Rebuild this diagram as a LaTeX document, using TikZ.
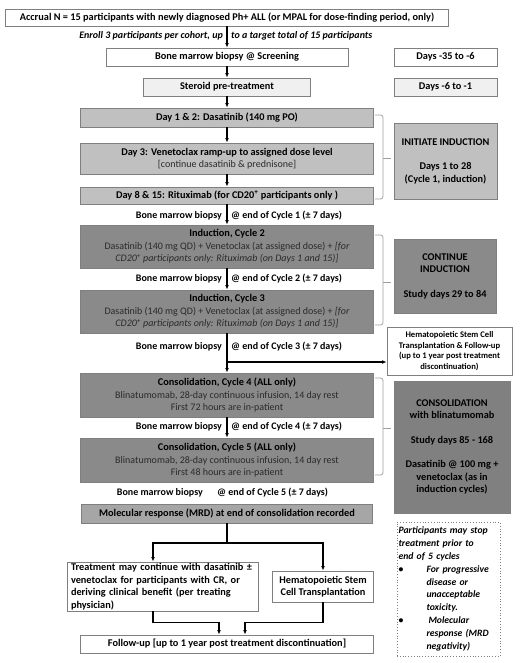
\documentclass[tikz,border=0pt]{standalone}
\usepackage{fontspec}
\setmainfont{Carlito}
\usetikzlibrary{arrows.meta}
\definecolor{bordergray}{HTML}{7F7F7F}
\definecolor{bracegray}{HTML}{A0A0A0}
\definecolor{fillvlight}{HTML}{F0F0F0}
\definecolor{filllight}{HTML}{C0C0C0}
\definecolor{fillmid}{HTML}{A6A6A6}
\definecolor{filldark}{HTML}{8A8A8A}
\definecolor{filldarker}{HTML}{808080}
\definecolor{bodytext}{HTML}{2A2A2A}
\newcommand{\bodyfont}{\mdseries\fontsize{10}{12.5}\selectfont\color{bodytext}}
\begin{document}
\begin{tikzpicture}[x=1pt,y=-1pt,
  box/.style={draw=bordergray, line width=0.8pt, inner sep=0pt, align=center,
    font=\bfseries\fontsize{10.3}{12.5}\selectfont},
  smallbox/.style={box, font=\bfseries\fontsize{8.6}{10.5}\selectfont},
  arr/.style={-{Latex[length=4.5pt,width=3.8pt]}, line width=1.1pt},
  conn/.style={line width=1.1pt},
  lbl/.style={font=\bfseries\fontsize{10}{12}\selectfont, inner sep=0pt},
  brace/.style={draw=bracegray, line width=0.8pt, rounded corners=2.5pt}]
\useasboundingbox (0,0) rectangle (520,663);

% main column
\node[box, minimum width=443pt, minimum height=17pt] (accrual) at (227,17.5)
  {Accrual N = 15 participants with newly diagnosed Ph+ ALL (or MPAL for dose-finding period, only)};
\node[lbl, anchor=east] (enrollL) at (223,36) {\itshape Enroll 3 participants per cohort, up};
\node[lbl, anchor=west] (enrollR) at (231,36) {\itshape to a target total of 15 participants};

\node[box, fill=white, minimum width=242pt, minimum height=18pt] (screen) at (227,57)
  {Bone marrow biopsy @ Screening};
\node[box, fill=fillvlight, minimum width=167pt, minimum height=18pt] (steroid) at (227,87)
  {Steroid pre-treatment};

\node[box, fill=filllight, minimum width=293pt, minimum height=19pt] (day1) at (227,117.5)
  {Day 1 \& 2: Dasatinib (140 mg PO)};
\node[box, fill=filllight, minimum width=293pt, minimum height=31pt] (day3) at (227,158.5)
  {Day 3: Venetoclax ramp-up to assigned dose level\\
   {\bodyfont[continue dasatinib \& prednisone]}};
\node[box, fill=filllight, minimum width=293pt, minimum height=17pt] (day8) at (227,195.5)
  {Day 8 \& 15: Rituximab (for CD20\textsuperscript{+} participants only )};

\node[lbl, anchor=east] (bmb1L) at (222,216) {Bone marrow biopsy};
\node[lbl, anchor=west] (bmb1R) at (231,216) {@ end of Cycle 1 (± 7 days)};

\node[box, fill=filldark, minimum width=293pt, minimum height=43pt] (cyc2) at (227,246.5)
  {Induction, Cycle 2\\
   {\bodyfont Dasatinib (140 mg QD) + Venetoclax (at assigned dose) + \itshape[for}\\
   {\bodyfont\itshape CD20\textsuperscript{+} participants only: Rituximab (on Days 1 and 15)]}};

\node[lbl, anchor=east] (bmb2L) at (222,279) {Bone marrow biopsy};
\node[lbl, anchor=west] (bmb2R) at (231,279) {@ end of Cycle 2 (± 7 days)};

\node[box, fill=filldark, minimum width=293pt, minimum height=43pt] (cyc3) at (227,311.5)
  {Induction, Cycle 3\\
   {\bodyfont Dasatinib (140 mg QD) + Venetoclax (at assigned dose) + \itshape[for}\\
   {\bodyfont\itshape CD20\textsuperscript{+} participants only: Rituximab (on Days 1 and 15)]}};

\node[lbl, anchor=east] (bmb3L) at (222,347) {Bone marrow biopsy};
\node[lbl, anchor=west] (bmb3R) at (231,347) {@ end of Cycle 3 (± 7 days)};

\node[box, fill=filldark, minimum width=293pt, minimum height=44pt] (cyc4) at (227,395)
  {Consolidation, Cycle 4 (ALL only)\\
   {\bodyfont Blinatumomab, 28-day continuous infusion, 14 day rest}\\
   {\bodyfont First 72 hours are in-patient}};

\node[lbl, anchor=east] (bmb4L) at (222,427) {Bone marrow biopsy};
\node[lbl, anchor=west] (bmb4R) at (231,427) {@ end of Cycle 4 (± 7 days)};

\node[box, fill=filldark, minimum width=293pt, minimum height=44pt] (cyc5) at (227,460)
  {Consolidation, Cycle 5 (ALL only)\\
   {\bodyfont Blinatumomab, 28-day continuous infusion, 14 day rest}\\
   {\bodyfont First 48 hours are in-patient}};

\node[lbl, anchor=east] (bmb5L) at (203,493) {Bone marrow biopsy};
\node[lbl, anchor=west] (bmb5R) at (217,493) {@ end of Cycle 5 (± 7 days)};

\node[box, fill=fillmid, minimum width=291pt, minimum height=19pt] (mrd) at (227,513.5)
  {Molecular response (MRD) at end of consolidation recorded};

\node[box, fill=white, minimum width=191pt, minimum height=49pt, text width=183pt, align=left]
  (contbox) at (162.5,586.5)
  {Treatment may continue with dasatinib ±\\venetoclax for participants with CR, or\\
   deriving clinical benefit (per treating\\physician)};
\node[box, fill=white, minimum width=101pt, minimum height=31pt] (hsct2) at (323,586.5)
  {Hematopoietic Stem\\Cell Transplantation};

\node[box, fill=white, minimum width=293pt, minimum height=18pt] (follow) at (227,644)
  {Follow-up [up to 1 year post treatment discontinuation]};

% right column
\node[box, fill=white, minimum width=103pt, minimum height=18pt] (d35) at (445.5,57) {Days -35 to -6};
\node[box, fill=fillvlight, minimum width=103pt, minimum height=18pt] (d6) at (445.5,87) {Days -6 to -1};
\node[box, fill=filllight, minimum width=103pt, minimum height=76pt] (init) at (445.5,161)
  {INITIATE INDUCTION\\[12pt]Days 1 to 28\\(Cycle 1, induction)};
\node[box, fill=filldark, minimum width=102pt, minimum height=74pt] (contind) at (445,276)
  {CONTINUE\\INDUCTION\\[12pt]Study days 29 to 84};
\node[smallbox, fill=white, minimum width=125pt, minimum height=48pt] (hsct) at (449.5,351)
  {Hematopoietic Stem Cell\\Transplantation \& Follow-up\\(up to 1 year post treatment\\discontinuation)};
\node[box, fill=filldarker, minimum width=116pt, minimum height=132pt] (consol) at (452,447)
  {CONSOLIDATION\\with blinatumomab\\[12pt]Study days 85 - 168\\[12pt]Dasatinib @ 100 mg +\\venetoclax (as in\\induction cycles)};
\node[box, draw=bordergray, dotted, line width=0.9pt, minimum width=103pt, minimum height=134pt,
  text width=100pt, align=left, font=\bfseries\itshape\fontsize{9.7}{12.8}\selectfont] (stop) at (448.5,589)
  {Participants may stop\\treatment prior to\\end of 5 cycles\\
   \makebox[28pt][l]{\upshape\textbullet}For progressive\\
   \hspace*{28pt}disease or\\
   \hspace*{28pt}unacceptable\\
   \hspace*{28pt}toxicity.\\
   \makebox[28pt][l]{\upshape\textbullet}\hspace*{2pt}Molecular\\
   \hspace*{28pt}response (MRD\\
   \hspace*{28pt}negativity)};

% braces
\draw[brace] (375,115) -- (383,115) -- (383,199) -- (375,199);
\draw[brace] (383,158) -- (391,158);
\draw[brace] (375,235) -- (383,235) -- (383,325) -- (375,325);
\draw[brace] (383,282) -- (391,282);
\draw[brace] (375,378) -- (383,378) -- (383,475) -- (375,475);
\draw[brace] (383,428) -- (391,428);

% connectors
\draw[arr] (accrual) -- (screen);
\draw[arr] (screen) -- (steroid);
\draw[arr] (steroid) -- (day1);
\draw[arr] (day1) -- (day3);
\draw[arr] (day3) -- (day8);
\draw[arr] (day8) -- (cyc2);
\draw[arr] (cyc2) -- (cyc3);
\draw[arr] (cyc3) -- (cyc4);
\coordinate (branch) at (227,362);
\draw[arr] (branch) -- (branch -| hsct.west);
\draw[arr] (cyc4) -- (cyc5);

\coordinate (split) at (227,543);
\draw[conn] (mrd) -- (split);
\draw[arr] (split) -| ([xshift=-9.5pt]contbox.north);
\draw[arr] (split) -| (hsct2.north);
\draw[arr] ([xshift=-9.5pt]contbox.south) |- ++(66,11) -- ([xshift=-8pt]follow.north);
\draw[arr] (hsct2.south) -- ++(0,20) -| ([xshift=18pt]follow.north);
\end{tikzpicture}
\end{document}
